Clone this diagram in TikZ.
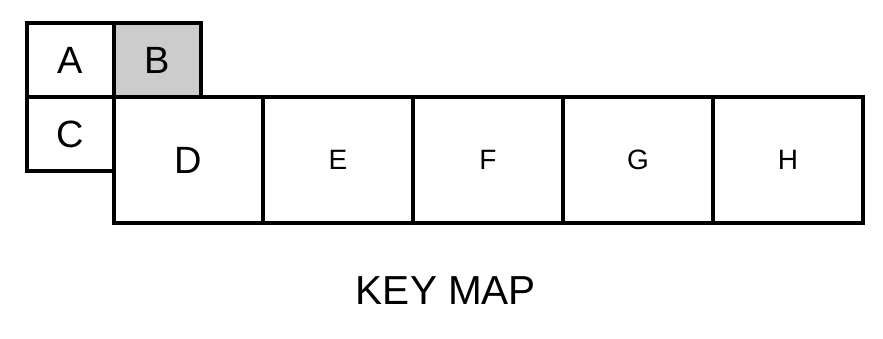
\documentclass[tikz,border=0pt]{standalone}
\usepackage{fontspec}
\setmainfont{Liberation Sans}
\usetikzlibrary{positioning}
\newcommand{\bigkey}{\fontsize{38}{40}\selectfont}
\newcommand{\smallkey}{\fontsize{28}{30}\selectfont}
\tikzset{
  keybox/.style={draw,line width=4pt,inner sep=0pt,outer sep=0pt,minimum width=87pt,minimum height=74pt,font=\bigkey},
  widebox/.style={keybox,minimum width=150pt,minimum height=126pt,font=\smallkey}
}
\begin{document}
\begin{tikzpicture}[x=1pt,y=-1pt]
    \useasboundingbox (0,0) rectangle (883,338);
    \node[keybox] (A) at (70.5,60) {A};
    \node[keybox,fill=black!20,right=0pt of A] (B) {B};
    \node[keybox,below=0pt of A] (C) {C};
    \node[widebox,minimum width=149pt,font=\bigkey,anchor=north west] (D) at (C.north east) {D};
    \node[widebox,right=0pt of D] (E) {E};
    \foreach \k/\p in {F/E,G/F,H/G} {\node[widebox,right=0pt of \p] (\k) {\k};}
    \node[font=\fontsize{40.5}{42}\selectfont] (title) at (446,291) {KEY MAP};
\end{tikzpicture}
\end{document}
